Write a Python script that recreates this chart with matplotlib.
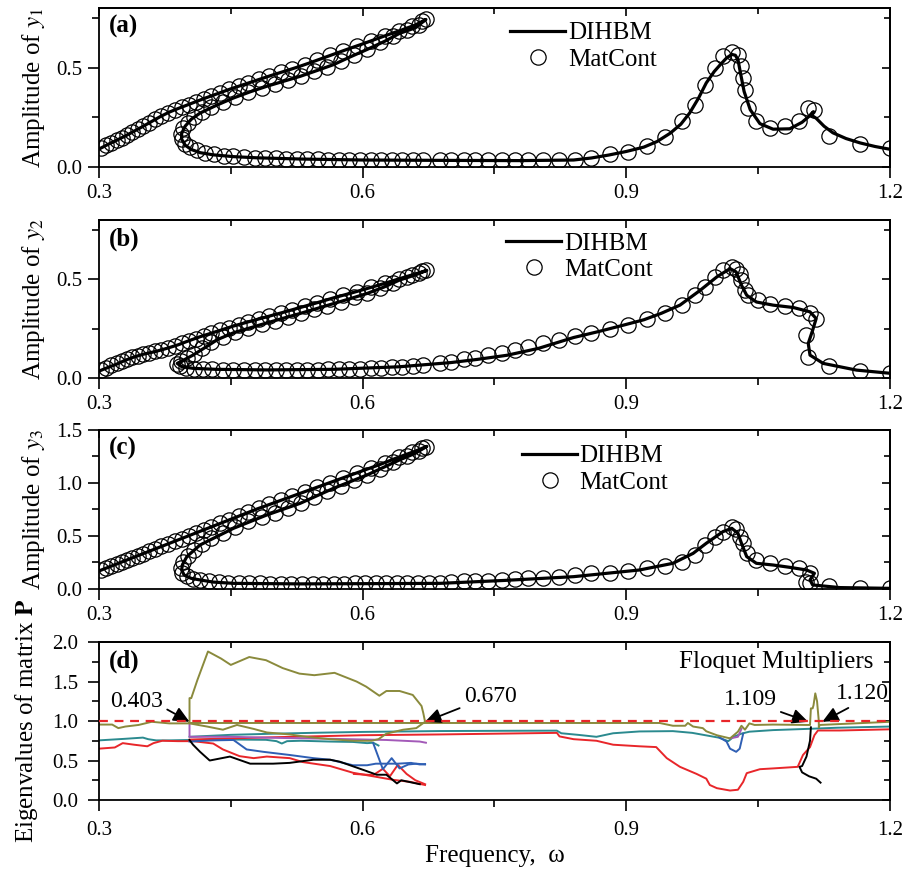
import matplotlib
matplotlib.use('Agg')
import matplotlib.pyplot as plt
from matplotlib.ticker import MultipleLocator, FixedLocator, FormatStrFormatter

plt.rcParams['font.family'] = 'serif'
plt.rcParams['font.serif'] = ['Liberation Serif', 'DejaVu Serif']
plt.rcParams['mathtext.fontset'] = 'stix'

OMEGA_TICKS = [0.3, 0.6, 0.9, 1.2]
OMEGA_MINOR = [0.45, 0.75, 1.05]

# ---- frequency responses, points in continuation order (omega, amplitude) ----
DIHBM_1 = [
    (0.300, 0.090), (0.310, 0.113), (0.320, 0.134), (0.330, 0.156), (0.340, 0.180), (0.350, 0.204),
    (0.360, 0.229), (0.370, 0.254), (0.380, 0.276), (0.390, 0.294), (0.400, 0.311), (0.410, 0.328),
    (0.420, 0.345), (0.430, 0.361), (0.440, 0.377), (0.450, 0.393), (0.465, 0.415), (0.480, 0.437),
    (0.495, 0.459), (0.510, 0.480), (0.525, 0.501), (0.540, 0.524), (0.555, 0.548), (0.570, 0.572),
    (0.585, 0.596), (0.600, 0.619), (0.615, 0.643), (0.630, 0.667), (0.645, 0.690), (0.660, 0.714),
    (0.672, 0.742),
    (0.660, 0.700), (0.642, 0.672), (0.625, 0.632), (0.605, 0.591), (0.585, 0.552), (0.567, 0.515),
    (0.548, 0.485), (0.529, 0.456), (0.510, 0.431), (0.491, 0.406), (0.472, 0.378), (0.453, 0.347),
    (0.434, 0.311), (0.415, 0.271), (0.405, 0.240), (0.398, 0.205), (0.394, 0.168), (0.394, 0.140),
    (0.398, 0.110), (0.405, 0.088), (0.415, 0.072), (0.430, 0.061), (0.453, 0.052), (0.480, 0.046),
    (0.529, 0.040), (0.600, 0.035), (0.700, 0.033), (0.780, 0.032), (0.840, 0.035),
    (0.860, 0.045), (0.880, 0.060), (0.900, 0.078), (0.920, 0.100), (0.935, 0.128), (0.950, 0.170),
    (0.962, 0.215), (0.972, 0.271), (0.982, 0.345), (0.991, 0.423), (1.000, 0.480), (1.007, 0.515),
    (1.014, 0.548), (1.020, 0.566), (1.024, 0.562), (1.027, 0.540), (1.030, 0.470), (1.034, 0.380),
    (1.041, 0.288), (1.052, 0.218), (1.067, 0.190), (1.086, 0.192), (1.100, 0.225), (1.108, 0.255),
    (1.113, 0.278), (1.110, 0.262), (1.116, 0.245), (1.125, 0.205), (1.135, 0.172), (1.150, 0.143),
    (1.166, 0.121), (1.183, 0.103), (1.200, 0.089),
]
MATCONT_1 = [
    (0.302, 0.097), (0.308, 0.109), (0.314, 0.121), (0.320, 0.134), (0.326, 0.147), (0.332, 0.161),
    (0.338, 0.175), (0.344, 0.190), (0.350, 0.204), (0.357, 0.222), (0.364, 0.239), (0.371, 0.256),
    (0.378, 0.272), (0.386, 0.287), (0.394, 0.301), (0.402, 0.314), (0.410, 0.328), (0.419, 0.343),
    (0.428, 0.358), (0.438, 0.374), (0.448, 0.390), (0.459, 0.406), (0.470, 0.422), (0.482, 0.440),
    (0.494, 0.458), (0.507, 0.476), (0.520, 0.494), (0.534, 0.515), (0.548, 0.537), (0.563, 0.561),
    (0.578, 0.585), (0.593, 0.608), (0.609, 0.633), (0.625, 0.658), (0.641, 0.684), (0.656, 0.708),
    (0.668, 0.735),
    (0.672, 0.745), (0.664, 0.715), (0.650, 0.688), (0.635, 0.659), (0.620, 0.627), (0.605, 0.594),
    (0.590, 0.563), (0.575, 0.532), (0.560, 0.504), (0.545, 0.481), (0.530, 0.458), (0.515, 0.437),
    (0.500, 0.418), (0.485, 0.397), (0.470, 0.375), (0.455, 0.350), (0.441, 0.326), (0.428, 0.300),
    (0.417, 0.274), (0.408, 0.249), (0.401, 0.222), (0.396, 0.195), (0.393, 0.168), (0.394, 0.142),
    (0.398, 0.118), (0.404, 0.098), (0.412, 0.083), (0.421, 0.071), (0.431, 0.063), (0.442, 0.057),
    (0.453, 0.053), (0.465, 0.050), (0.477, 0.047), (0.489, 0.045), (0.501, 0.043), (0.513, 0.041),
    (0.525, 0.040), (0.537, 0.039), (0.549, 0.038), (0.561, 0.037), (0.573, 0.036), (0.585, 0.036),
    (0.597, 0.035), (0.609, 0.035), (0.621, 0.034), (0.633, 0.034), (0.645, 0.034), (0.657, 0.033),
    (0.669, 0.033),
    (0.688, 0.035), (0.701, 0.035), (0.715, 0.035), (0.728, 0.035), (0.743, 0.035), (0.758, 0.035),
    (0.773, 0.035), (0.788, 0.035), (0.805, 0.035), (0.823, 0.035), (0.842, 0.035), (0.860, 0.043),
    (0.881, 0.065), (0.902, 0.077), (0.923, 0.106), (0.944, 0.153), (0.963, 0.229), (0.978, 0.313),
    (0.989, 0.414), (1.001, 0.498), (1.010, 0.557), (1.020, 0.577), (1.027, 0.561), (1.031, 0.507),
    (1.033, 0.448), (1.035, 0.389), (1.039, 0.296), (1.048, 0.229), (1.063, 0.198), (1.080, 0.204),
    (1.097, 0.229), (1.107, 0.296), (1.114, 0.288), (1.131, 0.156), (1.166, 0.116), (1.200, 0.094),
]

DIHBM_2 = [
    (0.300, 0.035), (0.310, 0.053), (0.320, 0.070), (0.330, 0.090), (0.339, 0.105), (0.350, 0.120),
    (0.365, 0.135), (0.377, 0.150), (0.390, 0.168), (0.400, 0.185), (0.415, 0.209), (0.434, 0.236),
    (0.453, 0.263), (0.472, 0.287), (0.491, 0.310), (0.510, 0.333), (0.529, 0.357), (0.548, 0.381),
    (0.567, 0.406), (0.586, 0.429), (0.605, 0.453), (0.624, 0.478), (0.642, 0.503), (0.660, 0.527),
    (0.673, 0.545),
    (0.660, 0.522), (0.642, 0.496), (0.624, 0.460), (0.605, 0.428), (0.586, 0.402), (0.567, 0.377),
    (0.548, 0.352), (0.529, 0.327), (0.510, 0.303), (0.491, 0.279), (0.472, 0.254), (0.453, 0.229),
    (0.435, 0.195), (0.422, 0.158), (0.407, 0.116), (0.396, 0.090), (0.389, 0.074), (0.394, 0.058),
    (0.407, 0.049), (0.433, 0.044), (0.491, 0.041), (0.567, 0.044), (0.642, 0.057), (0.700, 0.078),
    (0.730, 0.094), (0.764, 0.115), (0.800, 0.150), (0.840, 0.205), (0.870, 0.237), (0.897, 0.268),
    (0.920, 0.295), (0.940, 0.328), (0.961, 0.369), (0.984, 0.444), (1.003, 0.512), (1.018, 0.554),
    (1.025, 0.537), (1.031, 0.470), (1.037, 0.419), (1.048, 0.385), (1.067, 0.369), (1.090, 0.357),
    (1.109, 0.335), (1.116, 0.301), (1.112, 0.242), (1.107, 0.175), (1.109, 0.116), (1.124, 0.074),
    (1.162, 0.040), (1.200, 0.024),
]
MATCONT_2 = [
    (0.302, 0.040), (0.308, 0.052), (0.314, 0.064), (0.320, 0.075), (0.326, 0.086), (0.332, 0.096),
    (0.338, 0.105), (0.344, 0.112), (0.350, 0.120), (0.357, 0.128), (0.364, 0.136), (0.371, 0.144),
    (0.378, 0.152), (0.386, 0.163), (0.394, 0.175), (0.402, 0.188), (0.410, 0.200), (0.419, 0.214),
    (0.428, 0.227), (0.438, 0.241), (0.448, 0.255), (0.459, 0.270), (0.470, 0.284), (0.482, 0.299),
    (0.494, 0.314), (0.507, 0.330), (0.520, 0.346), (0.534, 0.364), (0.548, 0.382), (0.563, 0.401),
    (0.578, 0.420), (0.593, 0.438), (0.609, 0.459), (0.625, 0.480), (0.641, 0.502), (0.656, 0.523),
    (0.668, 0.540),
    (0.672, 0.545), (0.664, 0.530), (0.650, 0.510), (0.635, 0.483), (0.620, 0.455), (0.605, 0.430),
    (0.590, 0.408), (0.575, 0.387), (0.560, 0.367), (0.545, 0.348), (0.530, 0.328), (0.515, 0.309),
    (0.500, 0.290), (0.485, 0.271), (0.470, 0.252), (0.455, 0.232), (0.441, 0.210), (0.428, 0.182),
    (0.417, 0.150), (0.408, 0.122), (0.400, 0.100), (0.393, 0.085), (0.389, 0.072), (0.392, 0.060),
    (0.399, 0.052), (0.408, 0.047), (0.418, 0.045), (0.429, 0.044), (0.441, 0.043), (0.453, 0.042),
    (0.465, 0.042), (0.477, 0.041), (0.489, 0.041), (0.501, 0.041), (0.513, 0.041), (0.525, 0.042),
    (0.537, 0.042), (0.549, 0.043), (0.561, 0.044), (0.573, 0.045), (0.585, 0.047), (0.597, 0.048),
    (0.609, 0.050), (0.621, 0.052), (0.633, 0.054), (0.645, 0.058), (0.657, 0.062), (0.669, 0.067),
    (0.688, 0.077), (0.701, 0.082), (0.715, 0.094), (0.728, 0.103), (0.743, 0.116), (0.758, 0.128),
    (0.773, 0.141), (0.788, 0.158), (0.805, 0.175), (0.823, 0.192), (0.842, 0.212), (0.860, 0.229),
    (0.881, 0.246), (0.902, 0.268), (0.923, 0.297), (0.944, 0.327), (0.963, 0.369), (0.978, 0.419),
    (0.989, 0.461), (1.001, 0.512), (1.010, 0.545), (1.020, 0.562), (1.025, 0.554), (1.029, 0.529),
    (1.031, 0.495), (1.035, 0.444), (1.039, 0.419), (1.050, 0.394), (1.063, 0.377), (1.080, 0.364),
    (1.097, 0.352), (1.109, 0.327), (1.116, 0.301), (1.105, 0.217), (1.107, 0.108), (1.131, 0.062),
    (1.166, 0.035), (1.200, 0.024),
]

DIHBM_3 = [
    (0.300, 0.170), (0.320, 0.235), (0.340, 0.300), (0.360, 0.365), (0.380, 0.430), (0.400, 0.495),
    (0.420, 0.560), (0.440, 0.625), (0.460, 0.690), (0.480, 0.755), (0.500, 0.815), (0.520, 0.875),
    (0.540, 0.935), (0.560, 0.995), (0.580, 1.055), (0.600, 1.115), (0.620, 1.175), (0.640, 1.240),
    (0.660, 1.300), (0.673, 1.345),
    (0.660, 1.280), (0.642, 1.217), (0.605, 1.075), (0.567, 0.950), (0.529, 0.808), (0.491, 0.698),
    (0.453, 0.572), (0.415, 0.415), (0.400, 0.305), (0.395, 0.230), (0.394, 0.179), (0.397, 0.130),
    (0.405, 0.100), (0.415, 0.085), (0.430, 0.065), (0.453, 0.053), (0.529, 0.048), (0.600, 0.050),
    (0.688, 0.053), (0.760, 0.080), (0.840, 0.116), (0.915, 0.179), (0.953, 0.242), (0.976, 0.336),
    (0.991, 0.431), (1.010, 0.541), (1.020, 0.572), (1.027, 0.525), (1.031, 0.431), (1.037, 0.305),
    (1.048, 0.242), (1.067, 0.226), (1.086, 0.204), (1.105, 0.179), (1.114, 0.148), (1.109, 0.085),
    (1.112, 0.038), (1.143, 0.013), (1.200, 0.006),
]
MATCONT_3 = [
    (0.302, 0.175), (0.308, 0.195), (0.314, 0.215), (0.320, 0.235), (0.326, 0.255), (0.332, 0.274),
    (0.338, 0.294), (0.344, 0.313), (0.350, 0.333), (0.357, 0.355), (0.364, 0.378), (0.371, 0.401),
    (0.378, 0.423), (0.386, 0.449), (0.394, 0.475), (0.402, 0.501), (0.410, 0.527), (0.419, 0.556),
    (0.428, 0.586), (0.438, 0.618), (0.448, 0.651), (0.459, 0.686), (0.470, 0.722), (0.482, 0.760),
    (0.494, 0.797), (0.507, 0.836), (0.520, 0.875), (0.534, 0.917), (0.548, 0.959), (0.563, 1.004),
    (0.578, 1.049), (0.593, 1.094), (0.609, 1.142), (0.625, 1.191), (0.641, 1.242), (0.656, 1.291),
    (0.668, 1.330),
    (0.672, 1.340), (0.664, 1.305), (0.650, 1.250), (0.635, 1.195), (0.620, 1.135), (0.605, 1.078),
    (0.590, 1.025), (0.575, 0.975), (0.560, 0.925), (0.545, 0.870), (0.530, 0.815), (0.515, 0.765),
    (0.500, 0.720), (0.485, 0.680), (0.470, 0.640), (0.455, 0.580), (0.441, 0.530), (0.428, 0.480),
    (0.417, 0.425), (0.408, 0.370), (0.401, 0.310), (0.396, 0.250), (0.393, 0.195), (0.395, 0.150),
    (0.400, 0.118), (0.407, 0.098), (0.415, 0.085), (0.425, 0.073), (0.436, 0.065), (0.447, 0.059),
    (0.459, 0.055), (0.471, 0.053), (0.483, 0.052), (0.495, 0.051), (0.507, 0.050), (0.519, 0.050),
    (0.531, 0.050), (0.543, 0.050), (0.555, 0.050), (0.567, 0.051), (0.579, 0.051), (0.591, 0.052),
    (0.603, 0.052), (0.615, 0.053), (0.627, 0.054), (0.639, 0.055), (0.651, 0.056), (0.663, 0.057),
    (0.675, 0.058),
    (0.688, 0.060), (0.701, 0.069), (0.715, 0.075), (0.728, 0.075), (0.743, 0.079), (0.758, 0.085),
    (0.773, 0.091), (0.788, 0.101), (0.805, 0.107), (0.823, 0.116), (0.842, 0.129), (0.860, 0.148),
    (0.881, 0.154), (0.902, 0.170), (0.923, 0.198), (0.944, 0.217), (0.963, 0.258), (0.978, 0.321),
    (0.989, 0.415), (1.001, 0.487), (1.010, 0.541), (1.020, 0.588), (1.025, 0.563), (1.029, 0.494),
    (1.033, 0.431), (1.037, 0.336), (1.048, 0.274), (1.063, 0.242), (1.080, 0.217), (1.097, 0.195),
    (1.109, 0.154), (1.105, 0.069), (1.109, 0.053), (1.131, 0.028), (1.166, 0.013), (1.200, 0.006),
]

# ---- Floquet multipliers (omega, |eigenvalue|) ----
OLIVE = [
    (0.300, 0.955), (0.315, 0.955), (0.322, 0.910), (0.330, 0.930), (0.345, 0.950), (0.360, 0.990),
    (0.380, 0.970), (0.403, 0.970), (0.423, 0.930), (0.441, 0.890), (0.457, 0.950), (0.476, 0.900),
    (0.491, 0.855), (0.517, 0.830), (0.536, 0.800), (0.563, 0.770), (0.590, 0.750), (0.610, 0.750),
    (0.618, 0.770), (0.627, 0.840), (0.646, 0.890), (0.661, 0.910), (0.671, 0.990),
    (0.669, 1.100), (0.667, 1.190), (0.657, 1.330), (0.642, 1.380), (0.627, 1.380), (0.619, 1.320),
    (0.604, 1.435), (0.593, 1.500), (0.568, 1.610), (0.545, 1.580), (0.528, 1.600), (0.509, 1.670),
    (0.490, 1.770), (0.471, 1.810), (0.450, 1.710), (0.439, 1.790), (0.424, 1.880), (0.412, 1.520),
    (0.405, 1.290), (0.403, 1.290), (0.403, 0.975),
    (0.938, 0.975), (0.953, 0.940), (0.967, 0.940), (0.970, 0.975), (0.976, 0.930), (0.987, 0.910),
    (0.991, 0.870), (1.003, 0.820), (1.018, 0.780), (1.027, 0.865), (1.031, 0.940), (1.035, 0.890),
    (1.040, 0.970), (1.046, 0.950), (1.067, 0.955), (1.105, 0.950), (1.109, 0.950), (1.110, 1.160),
    (1.112, 1.160), (1.113, 1.200), (1.115, 1.350), (1.117, 1.250), (1.119, 1.000), (1.119, 0.920),
    (1.120, 0.950), (1.200, 0.990),
]
TEAL_UPPER = [
    (0.300, 0.755), (0.315, 0.765), (0.330, 0.775), (0.350, 0.790), (0.356, 0.770), (0.365, 0.755),
    (0.380, 0.755), (0.403, 0.760), (0.430, 0.765), (0.460, 0.765), (0.490, 0.762), (0.502, 0.745),
    (0.508, 0.715), (0.514, 0.745), (0.530, 0.750), (0.563, 0.740), (0.589, 0.735), (0.605, 0.720),
    (0.612, 0.725), (0.618, 0.690),
]
TEAL_LOWER = [
    (0.403, 0.800), (0.450, 0.825), (0.500, 0.840), (0.550, 0.852), (0.600, 0.862), (0.688, 0.873),
    (0.760, 0.876), (0.821, 0.878), (0.826, 0.845), (0.845, 0.825), (0.866, 0.800), (0.885, 0.845),
    (0.915, 0.868), (0.953, 0.872), (0.975, 0.850), (0.990, 0.820), (1.005, 0.790), (1.016, 0.745),
    (1.022, 0.800), (1.031, 0.840), (1.040, 0.865), (1.067, 0.885), (1.110, 0.902), (1.140, 0.915),
    (1.200, 0.930),
]
RED_UPPER = [
    (0.300, 0.650), (0.318, 0.665), (0.327, 0.720), (0.340, 0.700), (0.355, 0.680), (0.362, 0.720),
    (0.372, 0.750), (0.390, 0.745), (0.407, 0.745), (0.430, 0.715), (0.441, 0.640), (0.460, 0.555),
    (0.476, 0.530), (0.491, 0.550), (0.517, 0.530), (0.532, 0.480), (0.563, 0.430), (0.589, 0.345),
    (0.612, 0.300), (0.635, 0.255), (0.654, 0.230), (0.671, 0.190),
]
RED_ZIGZAG = [
    (0.590, 0.330), (0.612, 0.315), (0.623, 0.395), (0.631, 0.300), (0.640, 0.445), (0.650, 0.330),
    (0.660, 0.250), (0.671, 0.200),
]
RED_LOWER = [
    (0.403, 0.765), (0.450, 0.780), (0.500, 0.795), (0.600, 0.820), (0.688, 0.830), (0.821, 0.850),
    (0.824, 0.805), (0.840, 0.770), (0.866, 0.750), (0.885, 0.700), (0.915, 0.680), (0.934, 0.670),
    (0.946, 0.530), (0.961, 0.420), (0.980, 0.330), (0.991, 0.270), (0.995, 0.190), (1.003, 0.150),
    (1.018, 0.120), (1.027, 0.130), (1.033, 0.230), (1.037, 0.340), (1.052, 0.390), (1.067, 0.400),
    (1.095, 0.420), (1.101, 0.570), (1.109, 0.670), (1.114, 0.820), (1.118, 0.880), (1.143, 0.880),
    (1.200, 0.895),
]
BLUE_LEFT = [
    (0.403, 0.740), (0.430, 0.755), (0.453, 0.760), (0.468, 0.640), (0.487, 0.610), (0.517, 0.570),
    (0.544, 0.530), (0.563, 0.510), (0.589, 0.440), (0.605, 0.440), (0.615, 0.460), (0.640, 0.460),
    (0.655, 0.470), (0.665, 0.450), (0.671, 0.455),
]
BLUE_ZIGZAG = [
    (0.612, 0.720), (0.623, 0.390), (0.633, 0.530), (0.642, 0.400), (0.652, 0.450), (0.661, 0.460),
    (0.671, 0.450),
]
BLUE_DIP = [(1.005, 0.800), (1.014, 0.740), (1.018, 0.650), (1.025, 0.610), (1.029, 0.650), (1.033, 0.840)]
PURPLE_LEFT = [
    (0.403, 0.960), (0.403, 0.800), (0.450, 0.800), (0.510, 0.785), (0.563, 0.775), (0.627, 0.760),
    (0.665, 0.740), (0.672, 0.725),
]
PURPLE_DIP = [(1.018, 0.780), (1.027, 0.800), (1.031, 0.900)]
BLACK_LEFT = [
    (0.403, 0.760), (0.407, 0.700), (0.415, 0.610), (0.426, 0.500), (0.449, 0.550), (0.472, 0.460),
    (0.498, 0.460), (0.517, 0.470), (0.544, 0.510), (0.563, 0.510), (0.574, 0.485), (0.601, 0.380),
    (0.616, 0.320), (0.627, 0.320), (0.639, 0.210), (0.644, 0.250), (0.665, 0.200),
]
BLACK_RIGHT = [
    (1.110, 0.920), (1.109, 0.750), (1.105, 0.550), (1.100, 0.430), (1.097, 0.420), (1.100, 0.350),
    (1.108, 0.300), (1.116, 0.270), (1.121, 0.220),
]

# bifurcation points (omega, text position)
BIF_LABELS = ['0.403', '0.670', '1.109', '1.120']
BIF_OMEGA = [0.403, 0.671, 1.107, 1.123]
BIF_TEXT_XY = [(0.343, 1.253), (0.745, 1.316), (1.041, 1.266), (1.169, 1.342)]
BIF_RELPOS = [(1.0, 0.2), (0.0, 0.0), (1.0, 0.0), (0.35, 0.0)]

OLIVE_C = '#8a8a3c'
TEAL_C = '#2b8a8f'
RED_C = '#e8262a'
BLUE_C = '#2f5fb4'
PURPLE_C = '#a35ab8'


def unzip(points):
    return [p[0] for p in points], [p[1] for p in points]


def style_axes(ax, ymax):
    ax.set_xlim(0.3, 1.2)
    ax.set_ylim(0, ymax)
    ax.xaxis.set_major_locator(FixedLocator(OMEGA_TICKS))
    ax.xaxis.set_minor_locator(FixedLocator(OMEGA_MINOR))
    ax.yaxis.set_major_locator(MultipleLocator(0.5))
    ax.yaxis.set_minor_locator(MultipleLocator(0.25))
    ax.xaxis.set_major_formatter(FormatStrFormatter('%.1f'))
    ax.yaxis.set_major_formatter(FormatStrFormatter('%.1f'))
    ax.tick_params(which='major', direction='out', length=8, width=1.2, labelsize=15, pad=4)
    ax.tick_params(which='minor', direction='out', length=5, width=1.2)
    for s in ax.spines.values():
        s.set_linewidth(1.3)
    # inward ticks along the top and right edges
    top = ax.secondary_xaxis('top')
    top.xaxis.set_major_locator(FixedLocator(OMEGA_TICKS))
    top.xaxis.set_minor_locator(FixedLocator(OMEGA_MINOR))
    top.tick_params(which='major', direction='in', length=6, width=1.2, labeltop=False)
    top.tick_params(which='minor', direction='in', length=4, width=1.2)
    top.spines['top'].set_linewidth(1.3)
    right = ax.secondary_yaxis('right')
    right.yaxis.set_major_locator(MultipleLocator(0.5))
    right.yaxis.set_minor_locator(MultipleLocator(0.25))
    right.tick_params(which='major', direction='in', length=6, width=1.2, labelright=False)
    right.tick_params(which='minor', direction='in', length=4, width=1.2)
    right.spines['right'].set_linewidth(1.3)


fig = plt.figure(figsize=(9.04, 8.71), dpi=100)
left, width = 0.1095, 0.875
ax_a = fig.add_axes([left, 0.8083, width, 0.1826])
ax_b = fig.add_axes([left, 0.5660, width, 0.1814])
ax_c = fig.add_axes([left, 0.3238, width, 0.1826])
ax_d = fig.add_axes([left, 0.0815, width, 0.1814])

panels = [
    (ax_a, DIHBM_1, MATCONT_1, 0.8, '(a)', 'Amplitude of $y_1$', (0.520, 0.912)),
    (ax_b, DIHBM_2, MATCONT_2, 0.8, '(b)', 'Amplitude of $y_2$', (0.515, 0.924)),
    (ax_c, DIHBM_3, MATCONT_3, 1.5, '(c)', 'Amplitude of $y_3$', (0.535, 0.906)),
]
for ax, line_pts, mark_pts, ymax, tag, ylab, leg_xy in panels:
    w, a = unzip(line_pts)
    ax.plot(w, a, color='k', lw=2.3, label='DIHBM', zorder=3)
    w, a = unzip(mark_pts)
    ax.plot(w, a, ls='none', marker='o', ms=11, mfc='none', mec='k', mew=0.9,
            label='MatCont', zorder=2)
    style_axes(ax, ymax)
    ax.text(0.012, 0.955, tag, transform=ax.transAxes, fontsize=18, fontweight='bold', va='top')
    ax.set_ylabel(ylab, fontsize=18)
    ax.yaxis.set_label_coords(-0.066, 0.5)
    ax.legend(loc='upper left', bbox_to_anchor=leg_xy, frameon=False, fontsize=18,
              handlelength=2.2, handletextpad=0.1, labelspacing=0.15, borderpad=0,
              borderaxespad=0, numpoints=1)

# Floquet multipliers
for pts, col in [(TEAL_UPPER, TEAL_C), (TEAL_LOWER, TEAL_C), (RED_UPPER, RED_C),
                 (RED_ZIGZAG, RED_C), (RED_LOWER, RED_C), (BLUE_LEFT, BLUE_C),
                 (BLUE_ZIGZAG, BLUE_C), (BLUE_DIP, BLUE_C), (PURPLE_LEFT, PURPLE_C),
                 (PURPLE_DIP, PURPLE_C), (BLACK_LEFT, 'k'), (BLACK_RIGHT, 'k'), (OLIVE, OLIVE_C)]:
    w, v = unzip(pts)
    ax_d.plot(w, v, color=col, lw=1.4)
ax_d.axhline(1.0, color=RED_C, lw=1.6, ls=(0, (4, 3)), zorder=4)
style_axes(ax_d, 2.0)
ax_d.tick_params(which='major', pad=7)
ax_d.text(0.012, 0.955, '(d)', transform=ax_d.transAxes, fontsize=18, fontweight='bold', va='top')
ax_d.text(1.181, 1.75, 'Floquet Multipliers', fontsize=18, ha='right', va='center')
for lab, w0, txy, rp in zip(BIF_LABELS, BIF_OMEGA, BIF_TEXT_XY, BIF_RELPOS):
    ax_d.annotate(lab, xy=(w0, 0.99), xytext=txy, fontsize=17, ha='center', va='center',
                  arrowprops=dict(arrowstyle='-|>,head_length=0.6,head_width=0.28', color='k',
                                  lw=1.3, mutation_scale=16, relpos=rp, shrinkA=1, shrinkB=0))
ax_d.set_ylabel('Eigenvalues of matrix $\\mathbf{P}$', fontsize=18)
ax_d.yaxis.set_label_coords(-0.075, 0.5)
ax_d.set_xlabel('Frequency,  ω', fontsize=18, labelpad=4)

fig.savefig('out.png', dpi=100)
